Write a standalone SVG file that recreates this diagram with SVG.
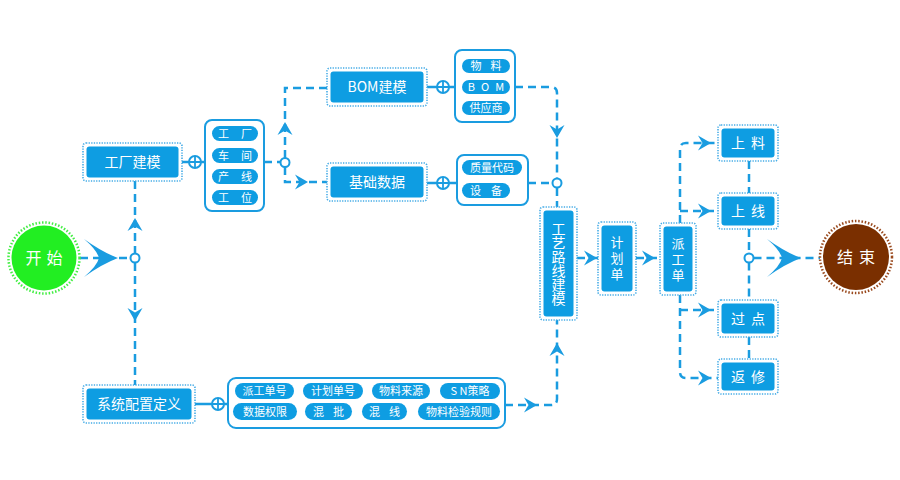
<svg xmlns="http://www.w3.org/2000/svg" xmlns:xlink="http://www.w3.org/1999/xlink" width="900" height="480" viewBox="0 0 900 480">
<style>
.ln{fill:none;stroke:#1a9ce0;stroke-width:2.5;stroke-dasharray:8 5}
.sl{fill:none;stroke:#1a9ce0;stroke-width:2.5}
.ob{fill:#fff;stroke:#46ace6;stroke-width:1.6;stroke-dasharray:1.3 1.3}
.ib{fill:#0e9de2}
.lb{fill:#fff;stroke:#1a9ce0;stroke-width:2}
.pl{fill:#0e9de2}
.t{font-family:"Noto Sans CJK SC","Liberation Sans",sans-serif;fill:#fff;font-size:14px;text-anchor:middle}
.v{font-family:"Noto Sans CJK SC","Liberation Sans",sans-serif;fill:#fff;font-size:14px;text-anchor:middle;writing-mode:vertical-rl}
.p{font-family:"Noto Sans CJK SC","Liberation Sans",sans-serif;fill:#fff;font-size:11px;text-anchor:middle}
.jc{fill:#fff;stroke:#1a9ce0;stroke-width:2}
.ah{fill:#1a9ce0}
</style>
<defs>
<path id="a" d="M0,0 L-13,-7.5 L-8.5,0 L-13,7.5 Z"/>
<path id="A" d="M0,0 Q-16,-6 -34,-19 Q-21,-8 -19,0 Q-21,8 -34,19 Q-16,6 0,0 Z"/>
<g id="plus"><circle r="6" class="jc"/><path d="M-6,0 H6 M0,-6 V6" stroke="#1a9ce0" stroke-width="1.8"/></g>
</defs>
<rect width="900" height="480" fill="#fff"/>

<g id="connectors">
<path class="ln" d="M80,258 H131"/>
<path class="ln" d="M135,181 V253 M135,263 V385"/>
<path class="sl" d="M182,162 H189 M201,162 H205"/>
<path class="ln" d="M264,162 H281"/>
<path class="ln" d="M285,158 V88 H327"/>
<path class="ln" d="M285,167 V182 H327"/>
<path class="sl" d="M427,87 H437 M449,87 H455"/>
<path class="sl" d="M427,183 H437 M449,183 H457"/>
<path class="ln" d="M515,87 H551 Q557,87 557,93 V178"/>
<path class="ln" d="M528,183 H553"/>
<path class="ln" d="M557,188 V207"/>
<path class="sl" d="M195,404 H212 M224,404 H228"/>
<path class="ln" d="M505,405 H551 Q557,405 557,399 V320"/>
<path class="ln" d="M577,258 H598"/>
<path class="ln" d="M636,258 H660"/>
<path class="ln" d="M680,223 V149 Q680,143 686,143 H718"/>
<path class="ln" d="M680,211 H718"/>
<path class="ln" d="M680,295 V372 Q680,378 686,378 H718"/>
<path class="ln" d="M680,310 H718"/>
<path class="ln" d="M749,161 V193 M749,229 V253.5 M749,262.5 V300 M749,337 V359"/>
<path class="ln" d="M753.5,258 H820"/>
<circle class="jc" cx="135" cy="258" r="4.5"/>
<circle class="jc" cx="285" cy="162.5" r="4.5"/>
<circle class="jc" cx="557" cy="183" r="4.5"/>
<circle class="jc" cx="749" cy="258" r="4.5"/>
<use xlink:href="#plus" x="195" y="162"/>
<use xlink:href="#plus" x="443" y="87"/>
<use xlink:href="#plus" x="443" y="183"/>
<use xlink:href="#plus" x="218" y="404"/>
<use xlink:href="#A" class="ah" transform="translate(118,258)"/>
<use xlink:href="#A" class="ah" transform="translate(801,258)"/>
<use xlink:href="#a" class="ah" transform="translate(135,218) rotate(-90)"/>
<use xlink:href="#a" class="ah" transform="translate(135,321) rotate(90)"/>
<use xlink:href="#a" class="ah" transform="translate(285,122) rotate(-90)"/>
<use xlink:href="#a" class="ah" transform="translate(308,182)"/>
<use xlink:href="#a" class="ah" transform="translate(557,138) rotate(90)"/>
<use xlink:href="#a" class="ah" transform="translate(537,405)"/>
<use xlink:href="#a" class="ah" transform="translate(557,343) rotate(-90)"/>
<use xlink:href="#a" class="ah" transform="translate(597,258)"/>
<use xlink:href="#a" class="ah" transform="translate(655,258)"/>
<use xlink:href="#a" class="ah" transform="translate(711,143)"/>
<use xlink:href="#a" class="ah" transform="translate(711,211)"/>
<use xlink:href="#a" class="ah" transform="translate(711,310)"/>
<use xlink:href="#a" class="ah" transform="translate(711,378)"/>
</g>

<g id="start">
<circle cx="44" cy="258" r="35.5" fill="none" stroke="#44ee44" stroke-width="2.5" stroke-dasharray="1.5 1.8"/>
<circle cx="44" cy="258" r="32.5" fill="#22ee22"/>
<text class="t" x="44" y="264" style="font-size:16px;letter-spacing:5px" dx="2.5">开始</text>
</g>

<g id="end">
<circle cx="856" cy="257" r="36" fill="none" stroke="#9a4a1e" stroke-width="2.5" stroke-dasharray="1.5 1.8"/>
<circle cx="856" cy="257" r="33" fill="#7a2f00"/>
<text class="t" x="856" y="263" style="font-size:16px;letter-spacing:6px" dx="3">结束</text>
</g>

<g id="factory">
<rect class="ob" x="83" y="143" width="99" height="38" rx="3"/>
<rect class="ib" x="86.5" y="146.5" width="92" height="31" rx="3"/>
<text class="t" x="132.5" y="167">工厂建模</text>
</g>
<g id="factory-list">
<rect class="lb" x="205" y="120" width="59" height="91" rx="7"/>
<rect class="pl" x="212" y="126" width="46" height="15" rx="7.5"/>
<rect class="pl" x="212" y="148" width="46" height="15" rx="7.5"/>
<rect class="pl" x="212" y="169" width="46" height="15" rx="7.5"/>
<rect class="pl" x="212" y="190" width="46" height="15" rx="7.5"/>
<text class="p" x="235" y="137.5" style="letter-spacing:12px" dx="6">工厂</text>
<text class="p" x="235" y="159.5" style="letter-spacing:12px" dx="6">车间</text>
<text class="p" x="235" y="180.5" style="letter-spacing:12px" dx="6">产线</text>
<text class="p" x="235" y="201.5" style="letter-spacing:12px" dx="6">工位</text>
</g>

<g id="bom">
<rect class="ob" x="327" y="68" width="100" height="38" rx="3"/>
<rect class="ib" x="330.5" y="71.5" width="93" height="31" rx="3"/>
<text class="t" x="377" y="92">BOM建模</text>
</g>
<g id="bom-list">
<rect class="lb" x="455" y="50" width="60" height="72" rx="7"/>
<rect class="pl" x="462" y="59" width="48" height="14" rx="7"/>
<rect class="pl" x="462" y="80" width="48" height="14" rx="7"/>
<rect class="pl" x="462" y="101" width="48" height="14" rx="7"/>
<text class="p" x="486" y="70" style="letter-spacing:9px" dx="4.5">物料</text>
<text class="p" x="486" y="91" style="letter-spacing:6px" dx="3">BOM</text>
<text class="p" x="486" y="112">供应商</text>
</g>

<g id="basic">
<rect class="ob" x="327" y="163" width="100" height="38" rx="3"/>
<rect class="ib" x="330.5" y="166.5" width="93" height="31" rx="3"/>
<text class="t" x="377" y="187">基础数据</text>
</g>
<g id="basic-list">
<rect class="lb" x="457" y="155" width="71" height="50" rx="7"/>
<rect class="pl" x="462" y="160" width="60" height="15" rx="7.5"/>
<rect class="pl" x="462" y="183" width="48" height="15" rx="7.5"/>
<text class="p" x="492" y="171.5">质量代码</text>
<text class="p" x="486" y="194.5" style="letter-spacing:10px" dx="5">设备</text>
</g>

<g id="sys">
<rect class="ob" x="83" y="385" width="112" height="38" rx="3"/>
<rect class="ib" x="86.5" y="388.5" width="105" height="31" rx="3"/>
<text class="t" x="139" y="409">系统配置定义</text>
</g>
<g id="sys-list">
<rect class="lb" x="228" y="378" width="277" height="50" rx="8"/>
<rect class="pl" x="235" y="383" width="59" height="16" rx="8"/>
<rect class="pl" x="303" y="383" width="60" height="16" rx="8"/>
<rect class="pl" x="372" y="383" width="58" height="16" rx="8"/>
<rect class="pl" x="440" y="383" width="60" height="16" rx="8"/>
<rect class="pl" x="233" y="403" width="64" height="17" rx="8.5"/>
<rect class="pl" x="305" y="403" width="47" height="17" rx="8.5"/>
<rect class="pl" x="362" y="403" width="45" height="17" rx="8.5"/>
<rect class="pl" x="418" y="403" width="82" height="17" rx="8.5"/>
<text class="p" x="264.5" y="395">派工单号</text>
<text class="p" x="333" y="395">计划单号</text>
<text class="p" x="401" y="395">物料来源</text>
<text class="p" x="470" y="395">S N策略</text>
<text class="p" x="265" y="415.5">数据权限</text>
<text class="p" x="328.5" y="415.5" style="letter-spacing:9px" dx="4.5">混批</text>
<text class="p" x="384.5" y="415.5" style="letter-spacing:9px" dx="4.5">混线</text>
<text class="p" x="459" y="415.5">物料检验规则</text>
</g>

<g id="routing">
<rect class="ob" x="540" y="207" width="37" height="113" rx="3"/>
<rect class="ib" x="543.5" y="210.5" width="30" height="106" rx="3"/>
<text class="v" x="558.5" y="263.5">工艺路线建模</text>
</g>

<g id="plan">
<rect class="ob" x="598" y="222" width="38" height="73" rx="3"/>
<rect class="ib" x="601.5" y="225.5" width="31" height="66" rx="3"/>
<text class="v" x="617" y="258.5" dy="1.5" style="font-size:13px;letter-spacing:3px">计划单</text>
</g>

<g id="dispatch">
<rect class="ob" x="660" y="223" width="36" height="72" rx="3"/>
<rect class="ib" x="663.5" y="226.5" width="29" height="65" rx="3"/>
<text class="v" x="678" y="259" dy="1.5" style="font-size:13px;letter-spacing:3px">派工单</text>
</g>

<g id="feed">
<rect class="ob" x="718" y="125" width="60" height="36" rx="3"/>
<rect class="ib" x="721.5" y="128.5" width="53" height="29" rx="3"/>
<text class="t" x="748" y="148" style="letter-spacing:6px" dx="3">上料</text>
</g>
<g id="online">
<rect class="ob" x="718" y="193" width="60" height="36" rx="3"/>
<rect class="ib" x="721.5" y="196.5" width="53" height="29" rx="3"/>
<text class="t" x="748" y="216" style="letter-spacing:6px" dx="3">上线</text>
</g>
<g id="pass">
<rect class="ob" x="718" y="300" width="60" height="37" rx="3"/>
<rect class="ib" x="721.5" y="303.5" width="53" height="30" rx="3"/>
<text class="t" x="748" y="323.5" style="letter-spacing:6px" dx="3">过点</text>
</g>
<g id="repair">
<rect class="ob" x="718" y="359" width="60" height="35" rx="3"/>
<rect class="ib" x="721.5" y="362.5" width="53" height="28" rx="3"/>
<text class="t" x="748" y="381.5" style="letter-spacing:6px" dx="3">返修</text>
</g>
</svg>
